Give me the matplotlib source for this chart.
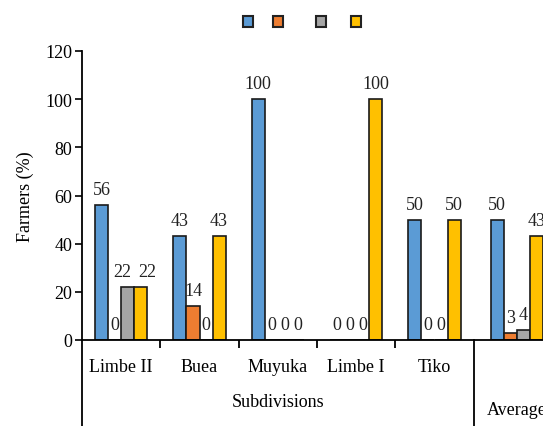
import numpy as np
import matplotlib.pyplot as plt
from matplotlib.patches import Patch

plt.rcParams['font.family'] = ['Liberation Serif', 'DejaVu Serif']
plt.rcParams['font.size'] = 13

# Subdivisions and share of farmers (%) for each of the four groups
subdivisions = ['Limbe II', 'Buea', 'Muyuka', 'Limbe I', 'Tiko', 'Average']
series_1 = [56, 43, 100, 0, 50, 50]
series_2 = [0, 14, 0, 0, 0, 3]
series_3 = [22, 0, 0, 0, 0, 4]
series_4 = [22, 43, 0, 100, 50, 43]
series = [series_1, series_2, series_3, series_4]
legend_labels = ['', '   ', ' ', '']
colors = ['#5B9BD5', '#ED7D31', '#A5A5A5', '#FFC000']

fig = plt.figure(figsize=(5.43, 4.27), dpi=100)
ax = fig.add_axes([82/543, 86/427, 470/543, 289/427])

# the Average group sits a little apart from the subdivisions
x = np.array([0, 1, 2, 3, 4, 5.05])
w = 0.166
# nudge labels that would collide (series index, group index) -> points
nudge = {(2, 0): -4, (3, 0): 5}
for i, vals in enumerate(series):
    pos = x + (i - 1.5) * w
    ax.bar(pos, vals, w, color=colors[i], edgecolor='#1a1a1a', linewidth=1.2)
    for j, (px, v) in enumerate(zip(pos, vals)):
        ax.annotate(str(v), (px, v), xytext=(nudge.get((i, j), 0), 5),
                    textcoords='offset points', ha='center', va='bottom',
                    fontsize=13, color='#222222', annotation_clip=False)

ax.set_xlim(-0.5, 5.5)
ax.set_ylim(0, 120)
ax.set_yticks(range(0, 121, 20))
ax.tick_params(axis='y', direction='out', length=5, width=1.2, pad=2, labelsize=13)
for s in ['top', 'right']:
    ax.spines[s].set_visible(False)
for s in ['left', 'bottom']:
    ax.spines[s].set_linewidth(1.3)

# group boundaries as short ticks, category names as labels
ax.set_xticks(x[:5])
ax.set_xticklabels(subdivisions[:5])
ax.tick_params(axis='x', length=0, pad=13, labelsize=13)
ax.set_xticks(np.arange(0.5, 4.5, 1), minor=True)
ax.tick_params(axis='x', which='minor', direction='out', length=6, width=1.3)

# left axis and the Average separator run down to the bottom
ax.plot([-0.5, -0.5], [0, -36], color='black', lw=1.3, clip_on=False)
ax.plot([4.5, 4.5], [0, -36], color='black', lw=1.3, clip_on=False)

ax.text(2, -25.5, 'Subdivisions', ha='center', va='center', fontsize=13)
ax.text(x[5], -29, subdivisions[5], ha='center', va='center', fontsize=13)
ax.set_ylabel('Farmers (%)', fontsize=13, labelpad=8)

handles = [Patch(facecolor=c, edgecolor='#222222', linewidth=1.5) for c in colors]
fig.legend(handles, legend_labels, loc='upper center', bbox_to_anchor=(302/543, 1.0),
           ncol=4, frameon=False, handlelength=0.55, handleheight=0.55,
           handletextpad=0, columnspacing=1.1, borderaxespad=0.5)

fig.savefig('out.png', dpi=100)
